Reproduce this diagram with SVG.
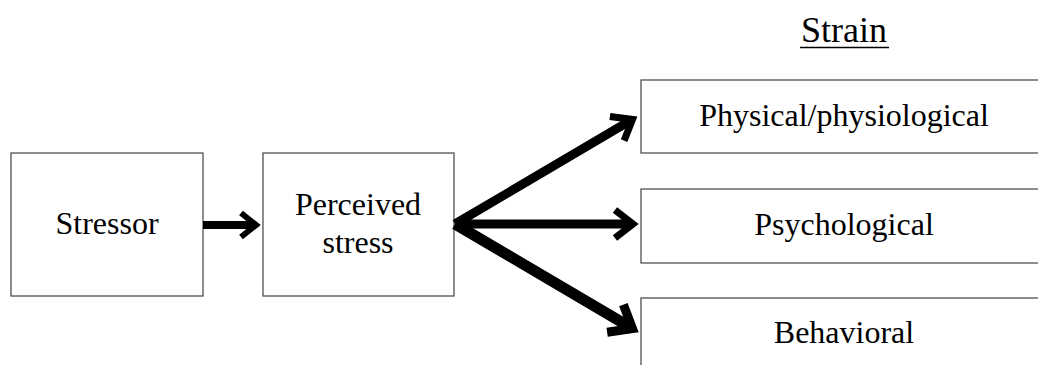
<svg xmlns="http://www.w3.org/2000/svg" width="1038" height="365" viewBox="0 0 1038 365">
<style>
.box{fill:#fff;stroke:#505050;stroke-width:1.3}
.lbl{font-family:"Liberation Serif","Times New Roman",serif;font-size:32px;fill:#000;text-anchor:middle}
.shaft{fill:none;stroke:#000;stroke-linecap:butt}
.head{fill:none;stroke:#000;stroke-linejoin:miter;stroke-miterlimit:10;stroke-linecap:butt}
</style>
<rect width="1038" height="365" fill="#fff"/>
<g id="title">
<text class="lbl" x="844" y="42" style="font-size:36px">Strain</text>
<line x1="800" y1="47.5" x2="889" y2="47.5" stroke="#000" stroke-width="1.5"/>
</g>
<g id="stressor">
<rect class="box" x="11" y="153" width="192" height="143"/>
<text class="lbl" x="107" y="234">Stressor</text>
</g>
<g id="perceived">
<rect class="box" x="263" y="153" width="191" height="143"/>
<text class="lbl" x="358" y="215">Perceived</text>
<text class="lbl" x="358" y="253">stress</text>
</g>
<g id="physical">
<rect class="box" x="641" y="80" width="420" height="73"/>
<text class="lbl" x="844" y="126">Physical/physiological</text>
</g>
<g id="psychological">
<rect class="box" x="641" y="189" width="420" height="74"/>
<text class="lbl" x="844" y="235">Psychological</text>
</g>
<g id="behavioral">
<rect class="box" x="641" y="298" width="420" height="80"/>
<text class="lbl" x="844" y="343">Behavioral</text>
</g>
<g id="connectors">
<g transform="translate(203,225)">
<line class="shaft" x1="0" y1="0" x2="52" y2="0" stroke-width="8"/>
<polyline class="head" points="38,-12 53,0 38,12" stroke-width="6"/>
</g>
<g transform="translate(455,224) rotate(-30.5)">
<line class="shaft" x1="0" y1="0" x2="205" y2="0" stroke-width="9"/>
<polyline class="head" points="188,-14 206,0 188,14" stroke-width="7"/>
</g>
<g transform="translate(455,224)">
<line class="shaft" x1="0" y1="0" x2="177" y2="0" stroke-width="9"/>
<polyline class="head" points="160,-14 178,0 160,14" stroke-width="7"/>
</g>
<g transform="translate(455,224) rotate(30.5)">
<line class="shaft" x1="0" y1="0" x2="205" y2="0" stroke-width="11"/>
<polyline class="head" points="186,-16 206,0 186,16" stroke-width="9"/>
</g>
</g>
</svg>
